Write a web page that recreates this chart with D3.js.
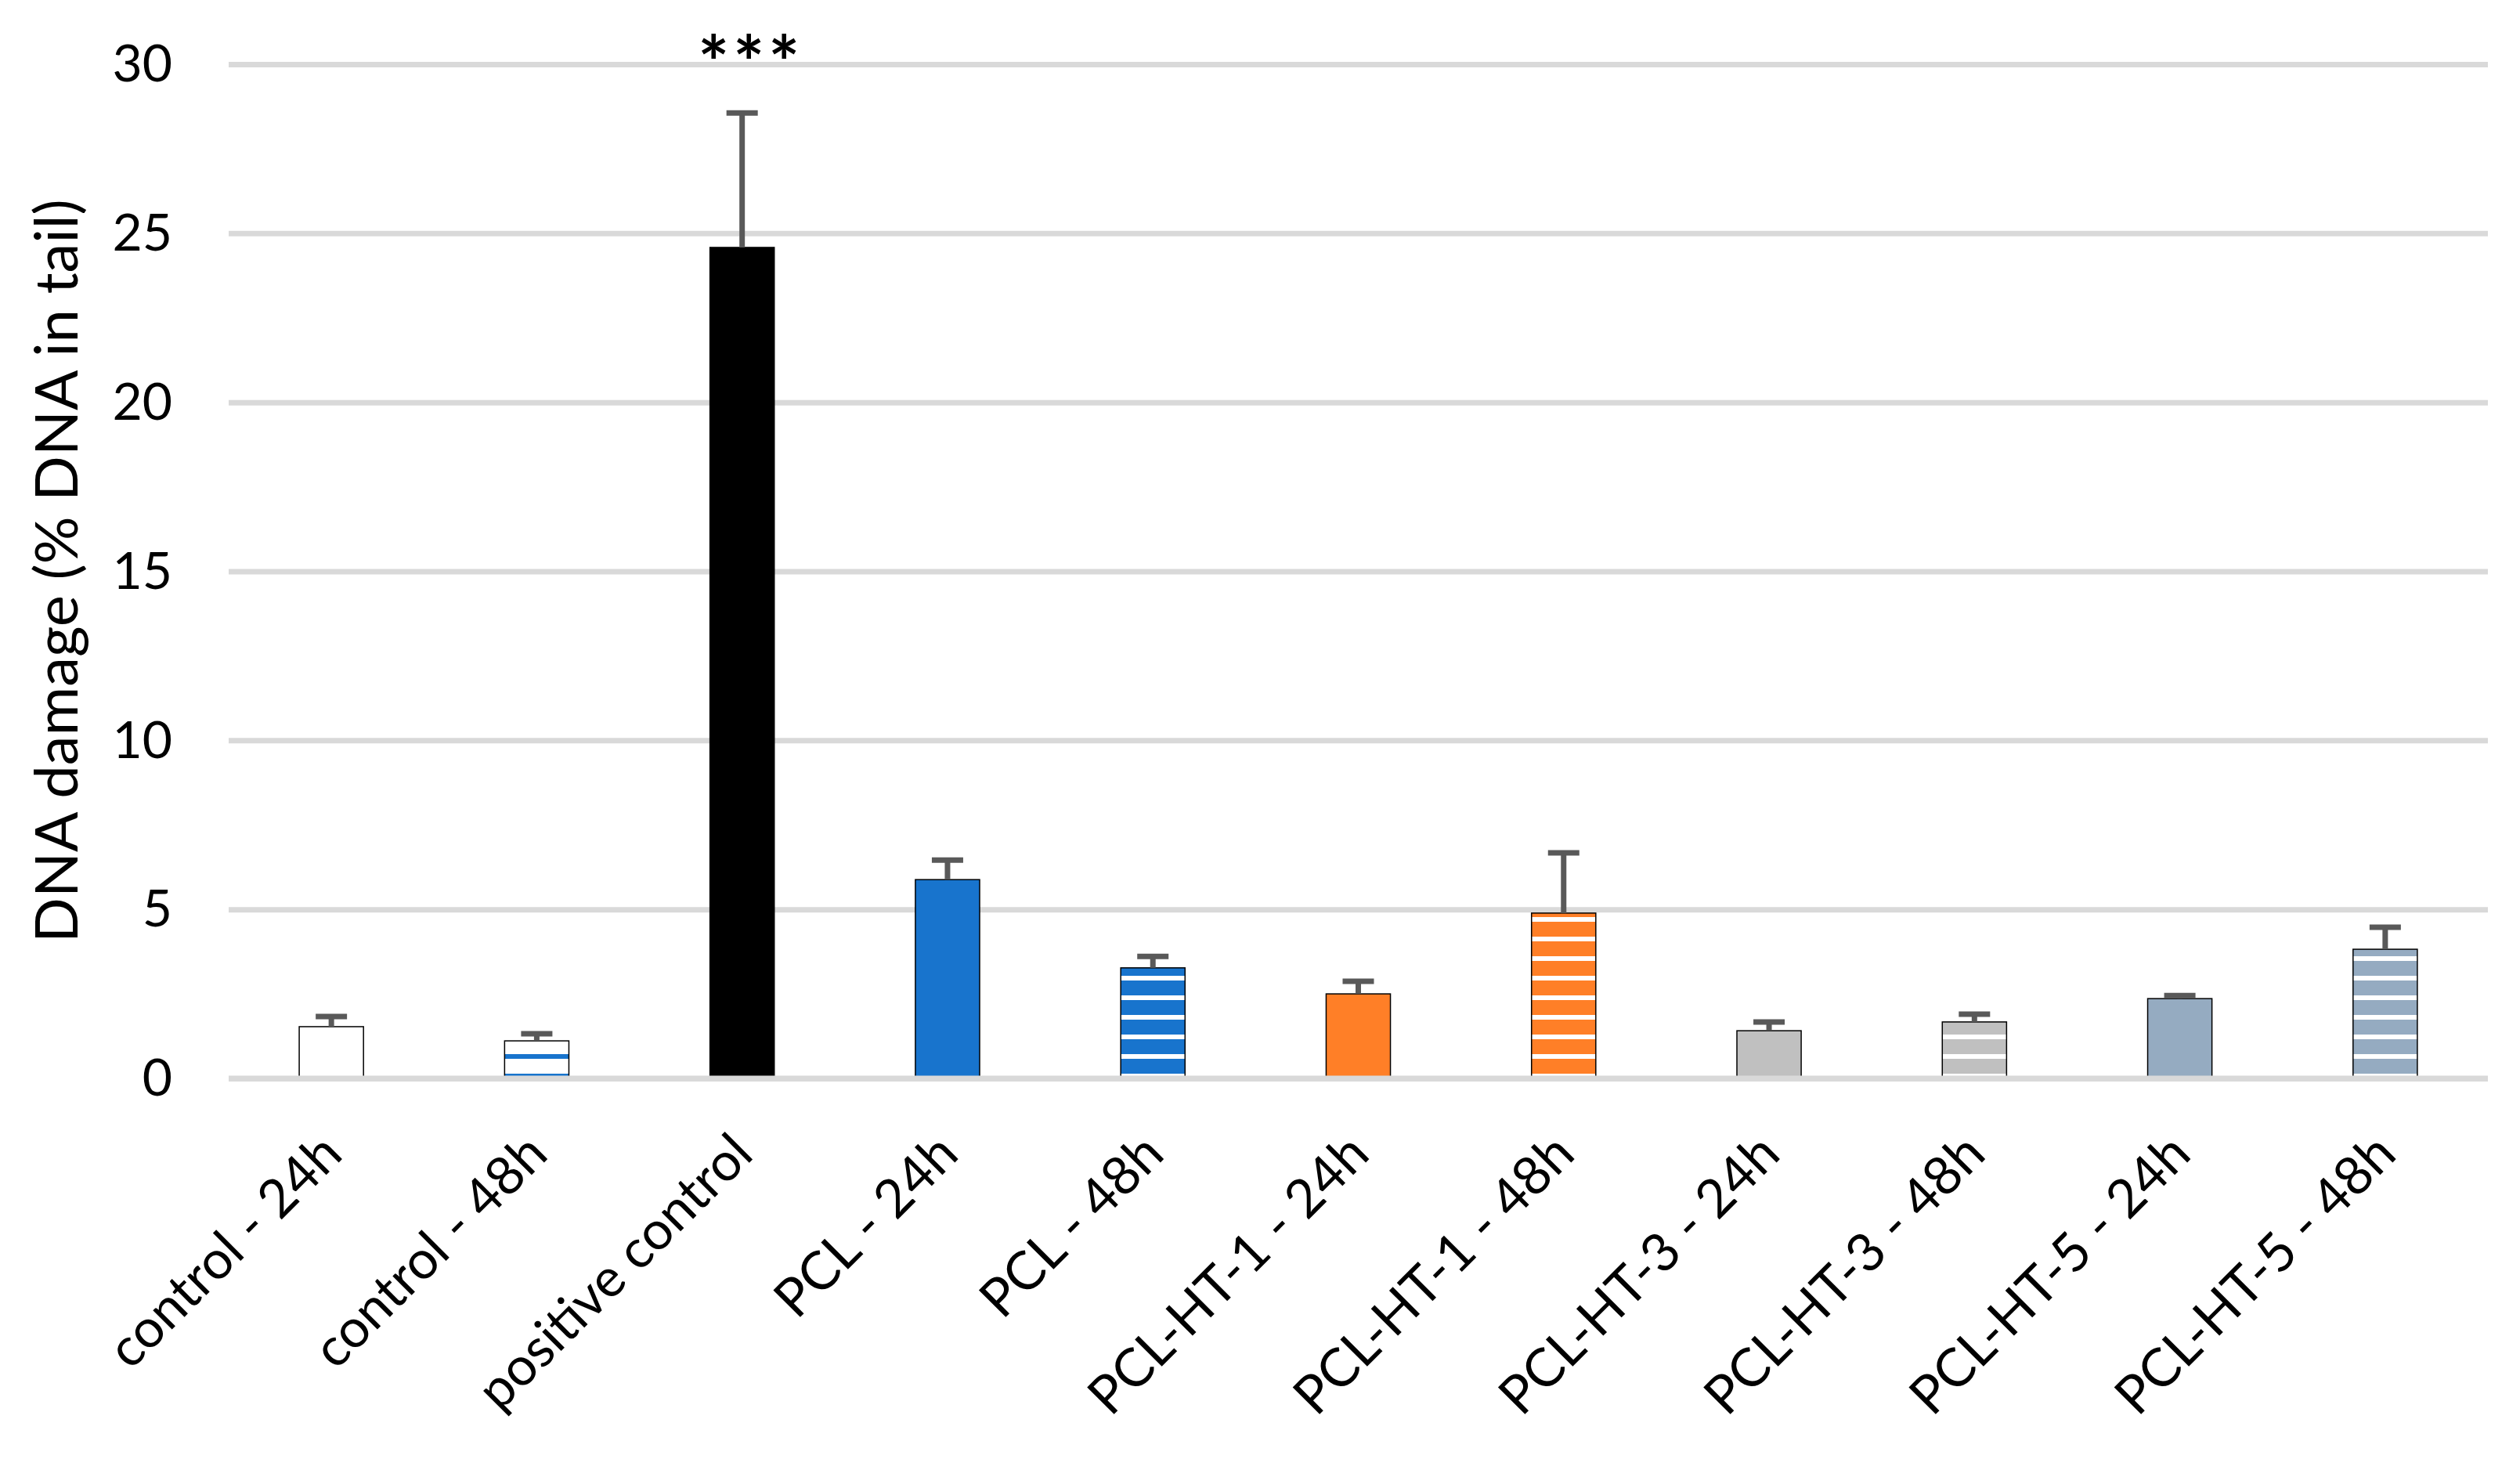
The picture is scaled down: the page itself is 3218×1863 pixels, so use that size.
<!DOCTYPE html>
<html>
<head>
<meta charset="utf-8">
<script src="https://cdn.jsdelivr.net/npm/d3@7"></script>
<style>
  html, body { margin: 0; padding: 0; background: #ffffff; }
  svg { display: block; }
</style>
</head>
<body>
<script>
// ---------- data ----------
const categories = [
  "control - 24h", "control - 48h", "positive control", "PCL - 24h", "PCL - 48h",
  "PCL-HT-1 - 24h", "PCL-HT-1 - 48h", "PCL-HT-3 - 24h", "PCL-HT-3 - 48h",
  "PCL-HT-5 - 24h", "PCL-HT-5 - 48h"
];
const means  = [1.53, 1.11, 24.58, 5.88, 3.27, 2.50, 4.89, 1.41, 1.67, 2.36, 3.82];
const errors = [0.30, 0.21, 3.98, 0.58, 0.34, 0.37, 1.78, 0.26, 0.23, 0.09, 0.65];
const barColors    = ["#ffffff", "#ffffff", "#000000", "#1874cd", "#1874cd", "#ff7f27", "#ff7f27", "#c0c0c0", "#c0c0c0", "#95abc1", "#95abc1"];
const stripeColors = [null, "#1874cd", null, null, "#ffffff", null, "#ffffff", null, "#ffffff", null, "#ffffff"];
const significance = ["", "", "***", "", "", "", "", "", "", "", ""];
const yTicks = [0, 5, 10, 15, 20, 25, 30];
const yTitle = "DNA damage (% DNA in tail)";

// ---------- layout ----------
const W = 3218, H = 1863;
const plotL = 292, plotR = 3177, plotT = 82, plotB = 1377;
const FONT = "Lato, 'Open Sans', sans-serif";

const svg = d3.select("body").append("svg").attr("width", W).attr("height", H);
svg.append("rect").attr("width", W).attr("height", H).attr("fill", "#ffffff");

const x = d3.scaleBand().domain(categories).range([plotL, plotR])
  .paddingInner(0.687).paddingOuter(0.3435);
const y = d3.scaleLinear().domain([0, 30]).range([plotB, plotT]);

// stripe patterns
const defs = svg.append("defs");
const period = 25, stripeH = 6;
categories.forEach((c, i) => {
  if (!stripeColors[i]) return;
  const p = defs.append("pattern").attr("id", "stripe" + i)
    .attr("patternUnits", "userSpaceOnUse")
    .attr("x", 0).attr("y", y(0)).attr("width", 20).attr("height", period);
  p.append("rect").attr("width", 20).attr("height", period).attr("fill", barColors[i]);
  p.append("rect").attr("y", period - stripeH).attr("width", 20).attr("height", stripeH).attr("fill", stripeColors[i]);
});

// grid + y tick labels
const yAxis = d3.axisLeft(y).tickValues(yTicks).tickSize(-(plotR - plotL)).tickPadding(72).tickFormat(d3.format("d"));
const gy = svg.append("g").attr("transform", `translate(${plotL},0)`).call(yAxis);
gy.select(".domain").remove();
gy.selectAll(".tick line").attr("stroke", "#d9d9d9").attr("stroke-width", 7);
gy.selectAll(".tick text").attr("fill", "#000").attr("font-family", FONT)
  .attr("font-size", 66).attr("dy", "0.33em");

// bars
const data = categories.map((c, i) => ({ c, i, v: means[i], e: errors[i] }));
svg.append("g").selectAll("rect").data(data).join("rect")
  .attr("x", d => x(d.c))
  .attr("y", d => y(d.v))
  .attr("width", x.bandwidth())
  .attr("height", d => y(0) - y(d.v))
  .attr("fill", d => stripeColors[d.i] ? `url(#stripe${d.i})` : barColors[d.i])
  .attr("stroke", "#000").attr("stroke-width", 1.5);

// zero line drawn over bar bottoms
svg.append("line").attr("x1", plotL).attr("x2", plotR).attr("y1", y(0)).attr("y2", y(0))
  .attr("stroke", "#d9d9d9").attr("stroke-width", 7);

// error bars
const capW = 40;
const eb = svg.append("g").attr("stroke", "#595959").attr("stroke-width", 7).attr("fill", "none");
data.forEach(d => {
  const cx = x(d.c) + x.bandwidth() / 2;
  eb.append("line").attr("x1", cx).attr("x2", cx).attr("y1", y(d.v)).attr("y2", y(d.v + d.e));
  eb.append("line").attr("x1", cx - capW / 2).attr("x2", cx + capW / 2).attr("y1", y(d.v + d.e)).attr("y2", y(d.v + d.e));
});

// significance marks
svg.append("g").selectAll("text").data(data.filter(d => significance[d.i])).join("text")
  .attr("x", d => x(d.c) + x.bandwidth() / 2 + 11)
  .attr("y", 114)
  .attr("text-anchor", "middle")
  .attr("font-family", FONT).attr("font-size", 94).attr("font-weight", 700)
  .attr("letter-spacing", 5)
  .attr("fill", "#000")
  .text(d => significance[d.i]);

// x labels rotated -45
svg.append("g").selectAll("text").data(data).join("text")
  .attr("transform", d => `translate(${x(d.c) + x.bandwidth() / 2 + 17},${y(0) + 100}) rotate(-45)`)
  .attr("text-anchor", "end")
  .attr("font-family", FONT).attr("font-size", 68)
  .attr("fill", "#000")
  .text(d => d.c);

// y title
svg.append("text")
  .attr("transform", `translate(99,729) rotate(-90)`)
  .attr("text-anchor", "middle")
  .attr("font-family", FONT).attr("font-size", 76)
  .attr("fill", "#000")
  .text(yTitle);
</script>
</body>
</html>
